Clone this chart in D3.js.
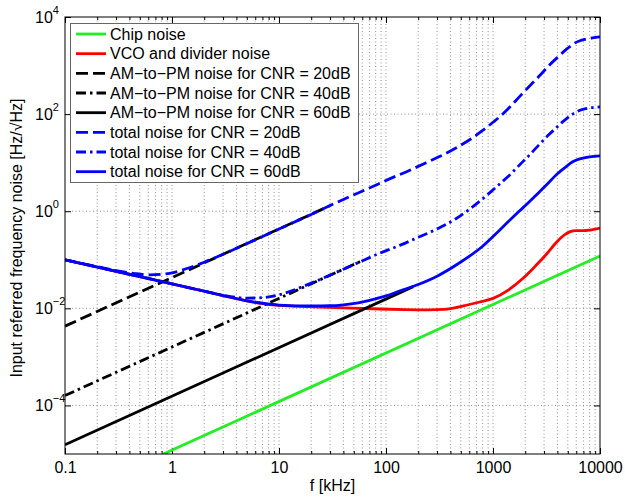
<!DOCTYPE html>
<html>
<head>
<meta charset="utf-8">
<script src="https://cdn.jsdelivr.net/npm/d3@7"></script>
<style>
  body { margin: 0; background: #fff; }
  text { font-family: "Liberation Sans", Arial, sans-serif; }
</style>
</head>
<body>
<div id="chart"></div>
<script>
// values: [f in kHz, noise in Hz/sqrt(Hz)]
const chipNoise = [[0.83, 1e-5], [10000, 0.12]];
const vcoNoise = [[0.1, 0.1], [0.2, 0.071], [0.3, 0.058], [0.5, 0.045], [1, 0.032], [2, 0.0225],
  [3, 0.0183], [5, 0.0142], [7, 0.0125], [10, 0.0115], [20, 0.0108], [40, 0.0102], [88, 0.0097],
  [150, 0.0094], [250, 0.0093], [350, 0.0095], [528, 0.0112], [750, 0.0135], [1000, 0.016],
  [1400, 0.024], [1920, 0.042], [2500, 0.075], [3200, 0.135], [4000, 0.24], [4600, 0.32],
  [5200, 0.375], [6000, 0.40], [7000, 0.40], [8000, 0.41], [10000, 0.45]];
const amPm20 = [[0.1, 0.0043], [30, 1.3]];
const amPm40 = [[0.1, 0.00016], [60, 0.096]];
const amPm60 = [[0.1, 0.0000155], [180, 0.028]];
const total20 = [[0.1, 0.1], [0.2, 0.072], [0.3, 0.06], [0.45, 0.052], [0.62, 0.049], [0.8, 0.05],
  [1, 0.054], [1.5, 0.07], [2, 0.089], [3, 0.13], [5, 0.215], [10, 0.43], [20, 0.86], [40, 1.75],
  [70, 3.0], [100, 4.3], [167, 7.0], [250, 10.5], [320, 13.5], [450, 20], [610, 30], [800, 46],
  [1000, 68], [1163, 89], [1400, 132], [1790, 235], [2200, 380], [2750, 630], [3300, 980],
  [3960, 1440], [4500, 1870], [4900, 2200], [5400, 2600], [5800, 2900], [6500, 3250],
  [7200, 3450], [8500, 3700], [10000, 3900]];
const total40 = [[0.1, 0.1], [0.3, 0.058], [1, 0.032], [2, 0.0226], [3, 0.0186], [4, 0.0168],
  [5, 0.0162], [7, 0.0166], [10, 0.019], [20, 0.033], [40, 0.064], [88, 0.137], [136, 0.2],
  [200, 0.29], [300, 0.43], [450, 0.70], [610, 1.12], [800, 1.8], [1000, 2.75], [1163, 3.7],
  [1400, 5.3], [1790, 9.2], [2200, 14.5], [2750, 24.5], [3300, 37], [3960, 54], [4500, 70],
  [4900, 82], [5400, 96], [5800, 106], [6500, 120], [7200, 128], [8500, 136], [10000, 141]];
const total60 = [[0.1, 0.1], [0.3, 0.058], [1, 0.032], [2, 0.0225], [3, 0.0183], [5, 0.0143],
  [10, 0.0117], [20, 0.0112], [30, 0.0113], [40, 0.0118], [55, 0.013], [70, 0.0146], [100, 0.018],
  [136, 0.023], [200, 0.031], [300, 0.046], [500, 0.09], [800, 0.19], [1090, 0.36], [1400, 0.62],
  [1920, 1.2], [2570, 2.2], [3200, 3.6], [4000, 5.9], [4900, 8.5], [5500, 10.3], [6500, 12.0],
  [8000, 13.2], [10000, 13.8]];

const legendLabels = ["Chip noise", "VCO and divider noise",
  "AM\u2212to\u2212PM noise for CNR = 20dB", "AM\u2212to\u2212PM noise for CNR = 40dB",
  "AM\u2212to\u2212PM noise for CNR = 60dB", "total noise for CNR = 20dB",
  "total noise for CNR = 40dB", "total noise for CNR = 60dB"];
const xTicks = [0.1, 1, 10, 100, 1000, 10000];
const xTickLabels = ["0.1", "1", "10", "100", "1000", "10000"];
const yTickExps = [-4, -2, 0, 2, 4];

const W = 625, H = 497;
const margin = {top: 17, right: 25, bottom: 43, left: 65};
const DASH = "12,5", DASHDOT = "10,4,2.5,4";

const x = d3.scaleLog().domain([0.1, 10000]).range([margin.left, W - margin.right]);
const y = d3.scaleLog().domain([1e-5, 1e4]).range([H - margin.bottom, margin.top]);
const x0 = margin.left, x1 = W - margin.right, y0 = H - margin.bottom, y1 = margin.top;

const svg = d3.select("#chart").append("svg").attr("width", W).attr("height", H);

svg.append("defs").append("clipPath").attr("id", "plot")
  .append("rect").attr("x", x0).attr("y", y1).attr("width", x1 - x0).attr("height", y0 - y1);

// dotted grid
const grid = svg.append("g").attr("stroke", "#777").attr("stroke-width", 0.8)
  .attr("stroke-dasharray", "1,2.5");
grid.selectAll(".gx").data(x.ticks().filter(d => x(d) > x0 + 1 && x(d) < x1 - 1)).join("line")
  .attr("x1", d => x(d)).attr("x2", d => x(d)).attr("y1", y1).attr("y2", y0);
grid.selectAll(".gy").data(yTickExps.map(e => Math.pow(10, e)).filter(d => y(d) > y1 + 1)).join("line")
  .attr("y1", d => y(d)).attr("y2", d => y(d)).attr("x1", x0).attr("x2", x1);

// axes (ticks pointing inward)
function clean(g) {
  g.select(".domain").remove();
  g.attr("font-size", 16).attr("font-family", null);
}
svg.append("g").attr("transform", `translate(0,${y0})`)
  .call(d3.axisBottom(x).tickValues(xTicks).tickSize(-6).tickPadding(8).tickFormat((d, i) => xTickLabels[i]))
  .call(clean);
svg.append("g").attr("transform", `translate(0,${y0})`)
  .call(d3.axisBottom(x).tickValues(x.ticks()).tickSize(-3).tickFormat("")).call(clean);
svg.append("g").attr("transform", `translate(0,${y1})`)
  .call(d3.axisTop(x).tickValues(xTicks).tickSize(-6).tickFormat("")).call(clean);
svg.append("g").attr("transform", `translate(0,${y1})`)
  .call(d3.axisTop(x).tickValues(x.ticks()).tickSize(-3).tickFormat("")).call(clean);
svg.append("g").attr("transform", `translate(${x0},0)`)
  .call(d3.axisLeft(y).tickValues(yTickExps.map(e => Math.pow(10, e))).tickSize(-6).tickFormat("")).call(clean);
svg.append("g").attr("transform", `translate(${x1},0)`)
  .call(d3.axisRight(y).tickValues(yTickExps.map(e => Math.pow(10, e))).tickSize(-6).tickFormat("")).call(clean);

// y tick labels as 10^n
const yl = svg.append("g").attr("font-size", 16).attr("fill", "#000");
yTickExps.forEach(e => {
  const t = yl.append("text").attr("x", 35).attr("y", y(Math.pow(10, e)) + 6);
  t.append("tspan").text("10");
  t.append("tspan").attr("dy", -9).attr("font-size", 11).text(String(e).replace("-", "\u2212"));
});

// curves
const line = d3.line().x(d => x(d[0])).y(d => y(d[1])).curve(d3.curveMonotoneX);
const series = [
  {data: chipNoise, color: "#22ee22", dash: null},
  {data: vcoNoise, color: "#ff0000", dash: null},
  {data: amPm20, color: "#000", dash: DASH},
  {data: amPm40, color: "#000", dash: DASHDOT},
  {data: amPm60, color: "#000", dash: null},
  {data: total20, color: "#0000ff", dash: DASH},
  {data: total40, color: "#0000ff", dash: DASHDOT},
  {data: total60, color: "#0000ff", dash: null}
];

svg.append("g").attr("clip-path", "url(#plot)")
  .selectAll("path").data(series).join("path")
  .attr("d", d => line(d.data))
  .attr("fill", "none")
  .attr("stroke", d => d.color)
  .attr("stroke-width", 2.8)
  .attr("stroke-dasharray", d => d.dash);

// frame
svg.append("rect").attr("x", x0).attr("y", y1).attr("width", x1 - x0).attr("height", y0 - y1)
  .attr("fill", "none").attr("stroke", "#000").attr("stroke-width", 1);

// legend
const leg = svg.append("g");
leg.append("rect").attr("x", 70.5).attr("y", 23.5).attr("width", 288).attr("height", 159)
  .attr("fill", "#fff").attr("stroke", "#666").attr("stroke-width", 1);
const item = leg.selectAll(".item").data(series).join("g")
  .attr("transform", (d, i) => `translate(0,${34 + i * 19.67})`);
item.append("line").attr("x1", 76).attr("x2", 106)
  .attr("stroke", d => d.color).attr("stroke-width", 2.8).attr("stroke-dasharray", d => d.dash);
item.append("text").attr("x", 110).attr("dy", "0.36em").attr("font-size", 16)
  .text((d, i) => legendLabels[i]);

// axis titles
svg.append("text").attr("x", (x0 + x1) / 2).attr("y", 491).attr("text-anchor", "middle")
  .attr("font-size", 16).text("f [kHz]");
svg.append("text").attr("transform", "translate(21.5,238) rotate(-90)").attr("text-anchor", "middle")
  .attr("font-size", 16).text("Input referred frequency noise [Hz/\u221AHz]");
</script>
</body>
</html>
